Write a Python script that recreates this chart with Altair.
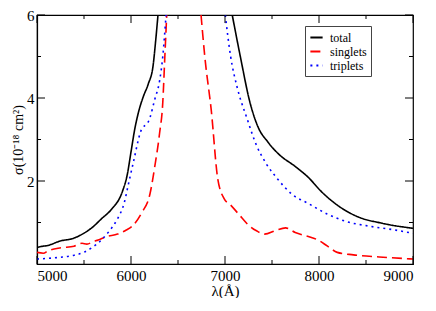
import altair as alt
import pandas as pd

# ---- data ----
total_left_wl = [5000, 5067, 5101, 5256, 5376, 5497, 5582, 5686, 5789, 5909, 5960, 6000, 6040, 6081, 6132, 6184, 6235, 6262, 6287]
total_left_val = [0.40, 0.43, 0.44, 0.56, 0.61, 0.74, 0.87, 1.09, 1.31, 1.75, 2.15, 2.70, 3.25, 3.67, 4.04, 4.34, 4.78, 5.37, 6.0]
total_right_wl = [7077, 7163, 7266, 7352, 7456, 7575, 7747, 7885, 8023, 8194, 8400, 8675, 9000]
total_right_val = [6.0, 5.0, 3.89, 3.30, 2.94, 2.64, 2.35, 2.09, 1.75, 1.42, 1.15, 0.98, 0.86]

singlet_left_wl = [5000, 5067, 5119, 5256, 5394, 5479, 5531, 5600, 5651, 5737, 5857, 5950, 6012, 6115, 6201, 6253, 6304, 6338, 6360, 6380]
singlet_left_val = [0.28, 0.26, 0.32, 0.39, 0.43, 0.50, 0.48, 0.54, 0.58, 0.66, 0.72, 0.82, 0.91, 1.24, 1.68, 2.35, 3.15, 3.89, 5.0, 6.0]
singlet_right_wl = [6745, 6785, 6854, 6923, 6992, 7060, 7146, 7249, 7335, 7421, 7541, 7644, 7747, 7902, 7988, 8091, 8194, 8366, 8641, 9000]
singlet_right_val = [6.0, 5.0, 3.70, 2.05, 1.57, 1.42, 1.20, 0.94, 0.80, 0.72, 0.81, 0.87, 0.76, 0.65, 0.58, 0.43, 0.28, 0.22, 0.17, 0.12]

triplet_left_wl = [5000, 5239, 5394, 5497, 5582, 5686, 5771, 5857, 5926, 5978, 6029, 6098, 6201, 6253, 6304, 6338, 6373]
triplet_left_val = [0.12, 0.16, 0.21, 0.28, 0.39, 0.58, 0.80, 1.09, 1.46, 1.98, 2.49, 3.16, 3.52, 3.97, 4.41, 5.0, 6.0]
triplet_right_wl = [7003, 7060, 7129, 7232, 7335, 7438, 7559, 7713, 7885, 8091, 8297, 8538, 8779, 9000]
triplet_right_val = [6.0, 5.0, 4.26, 3.52, 2.86, 2.42, 2.05, 1.68, 1.46, 1.20, 1.02, 0.91, 0.83, 0.74]

series_names = ["total", "singlets", "triplets"]
series_colors = ["#000000", "#ff0000", "#0000ff"]
series_dashes = [[1, 0], [10, 5], [2, 4]]

x_major = [5000, 6000, 7000, 8000, 9000]
x_minor = [5500, 6500, 7500, 8500]
y_major = [2, 4, 6]
y_minor = [1, 3, 5]

rows = []
def add(name, seg, xs, ys):
    for i, (a, b) in enumerate(zip(xs, ys)):
        rows.append({"series": name, "seg": name + seg, "wl": a, "val": b, "order": i})

add("total", "L", total_left_wl, total_left_val)
add("total", "R", total_right_wl, total_right_val)
add("singlets", "L", singlet_left_wl, singlet_left_val)
add("singlets", "R", singlet_right_wl, singlet_right_val)
add("triplets", "L", triplet_left_wl, triplet_left_val)
add("triplets", "R", triplet_right_wl, triplet_right_val)
df = pd.DataFrame(rows)

W, H = 376, 249
FONT = "Liberation Serif"

xscale = alt.Scale(domain=[5000, 9000], nice=False, zero=False)
yscale = alt.Scale(domain=[0, 6], nice=False, zero=False)

legend_kw = dict(title=None, orient="none", legendX=268, legendY=11,
                 symbolType="stroke", symbolSize=150, symbolStrokeWidth=2,
                 labelFont=FONT, labelFontSize=12, labelColor="#000",
                 fillColor="white", strokeColor="#444", padding=4,
                 rowPadding=0, labelOffset=6)

lines = alt.Chart(df).mark_line(strokeWidth=1.6, clip=True, interpolate="monotone").encode(
    x=alt.X("wl:Q", scale=xscale,
            axis=alt.Axis(values=x_major, title="λ(Å)", ticks=False, grid=False,
                          labelFontSize=15, titleFontSize=15, labelPadding=4,
                          titlePadding=0, labelFont=FONT, titleFont=FONT,
                          labelColor="#000", titleColor="#000", titleFontWeight="normal",
                          domainColor="#000", format="d")),
    y=alt.Y("val:Q", scale=yscale,
            axis=alt.Axis(values=y_major, title="σ(10⁻¹⁸ cm²)", ticks=False, grid=False,
                          labelFontSize=15, titleFontSize=14, labelPadding=3,
                          titlePadding=1, labelFont=FONT, titleFont=FONT,
                          labelColor="#000", titleColor="#000", titleFontWeight="normal",
                          domainColor="#000")),
    color=alt.Color("series:N", scale=alt.Scale(domain=series_names, range=series_colors),
                    legend=alt.Legend(**legend_kw)),
    strokeDash=alt.StrokeDash("series:N", scale=alt.Scale(domain=series_names, range=series_dashes),
                              legend=alt.Legend(**legend_kw)),
    detail="seg:N",
    order="order:Q",
)

def ticks_x(vals, length):
    d = pd.DataFrame({"t": vals})
    base = alt.Chart(d).mark_rule(color="#000", strokeWidth=1)
    bottom = base.encode(x=alt.X("t:Q", scale=xscale), y=alt.value(H), y2=alt.value(H - length))
    top = base.encode(x=alt.X("t:Q", scale=xscale), y=alt.value(0), y2=alt.value(length))
    return [bottom, top]

def ticks_y(vals, length):
    d = pd.DataFrame({"t": vals})
    base = alt.Chart(d).mark_rule(color="#000", strokeWidth=1)
    left = base.encode(y=alt.Y("t:Q", scale=yscale), x=alt.value(0), x2=alt.value(length))
    right = base.encode(y=alt.Y("t:Q", scale=yscale), x=alt.value(W), x2=alt.value(W - length))
    return [left, right]

layers = [lines] + ticks_x(x_major, 8) + ticks_x(x_minor, 4) + ticks_y(y_major, 8) + ticks_y(y_minor, 4)

chart = alt.layer(*layers).properties(
    width=W, height=H,
    autosize=alt.AutoSizeParams(type="none"),
    padding={"left": 29, "top": 7, "right": 15, "bottom": 34},
).configure(font=FONT).configure_view(stroke="#000", strokeWidth=1.2).configure_axis(domainWidth=1.2)

chart.save("out.html", embed_options={"renderer": "svg", "actions": False})
